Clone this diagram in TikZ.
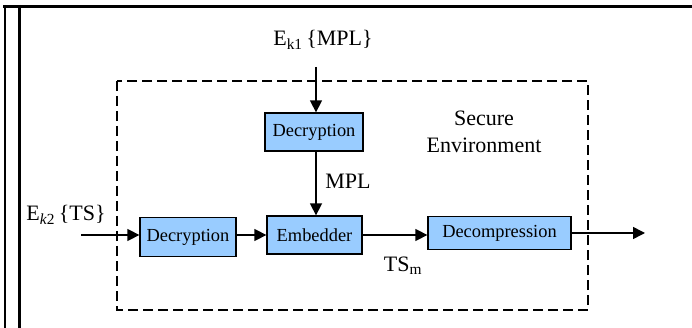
\documentclass[tikz,border=0pt]{standalone}
\usepackage{fontspec}
\setmainfont{Liberation Serif}
\usetikzlibrary{arrows.meta,positioning}

\definecolor{boxblue}{RGB}{153,204,255}
\newcommand{\lbl}{\fontsize{22}{27}\selectfont}
\newcommand{\boxtxt}{\fontsize{18.4}{22}\selectfont}

\tikzset{
	block/.style={draw,fill=boxblue,line width=1.3pt,inner sep=0pt,font=\boxtxt},
	flow/.style={line width=1.5pt,-{Triangle[length=12pt,width=12pt]}},
	tag/.style={font=\lbl,inner sep=0pt}
}

\begin{document}
\begin{tikzpicture}[x=1pt,y=-1pt]
	\useasboundingbox (0,0) rectangle (692,328);
	% frame
	\draw[line width=3pt] (3,6.5) -- (692,6.5);
	\draw[line width=2.5pt] (5,5) -- (5,328);
	\draw[line width=2.5pt] (19.5,5) -- (19.5,328);
	% secure environment
	\draw[line width=1.3pt,dash pattern=on 10pt off 5pt] (117,81) rectangle (588,310);
	\node[tag,align=center] (env) at (484,132) {Secure\\Environment};

	\node[block,minimum width=98pt,minimum height=38pt] (dec1) at (314,132) {Decryption};
	\node[block,minimum width=96pt,minimum height=39pt] (dec2) at (188,237) {Decryption};
	\node[block,minimum width=95pt,minimum height=38pt] (emb) at (314.5,235) {Embedder};
	\node[block,minimum width=143pt,minimum height=33pt] (decomp) at (499.5,233) {Decompression};

	\node[tag] (ek1) at (323,40) {E\textsubscript{k1}\,\{MPL\}};
	\node[tag] (ek2) at (66,215) {E\textsubscript{\textit{k}2}\,\{TS\}};
	\node[tag] (mpl) at (348,181) {MPL};
	\node[tag] (tsm) at (403,266) {TS\textsubscript{m}};

	\coordinate (in1) at (316,67);
	\coordinate (in2) at (81,235);
	\coordinate (out) at (645,233);

	\draw[flow] (in1) -- (in1 |- dec1.north);
	\draw[flow] (dec1.south -| in1) -- (emb.north -| in1);
	\draw[flow] (in2) -- (in2 -| dec2.west);
	\draw[flow] (dec2.east |- in2) -- (emb.west |- in2);
	\draw[flow] (emb.east |- in2) -- (decomp.west |- in2);
	\draw[flow] (decomp.east) -- (out);
\end{tikzpicture}
\end{document}
